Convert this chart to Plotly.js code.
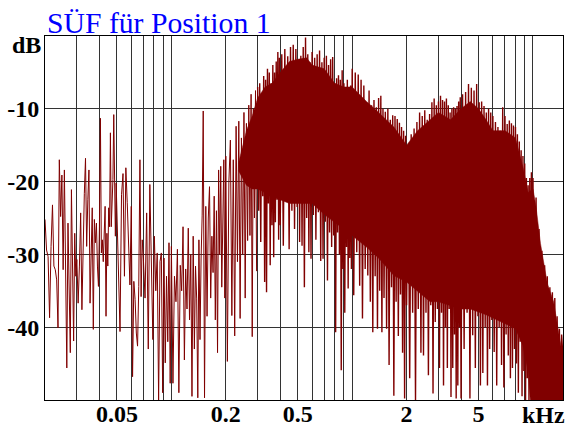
<!DOCTYPE html>
<html><head><meta charset="utf-8">
<script src="https://cdn.plot.ly/plotly-3.0.1.min.js"></script>
<style>html,body{margin:0;padding:0;background:#fff;}#chart{width:568px;height:423px;}</style>
</head><body><div id="chart"></div>
<script>
// Low-frequency part of the spectrum (20 Hz - 300 Hz)
const lowHz = [
20,20.4,20.8,21.2,21.6,22,22.4,22.8,23.2,23.6,24,24.4,24.8,25.2,25.6,26,26.4,26.8,27.2,27.6,28,28.4,28.8,29.2,29.6,
30,30.5,31,31.5,32,32.5,33,33.5,34,34.5,35,35.5,36,36.5,37,37.5,38,38.5,39,39.5,
40,40.5,41,41.5,42,42.5,43,43.5,44,44.5,45,45.5,46,46.5,47,47.5,48,48.5,49,49.5,
50,51,52,53,54,55,56,57,58,59,60,61,62,63,64,65,66,67,68,69,
70,71.5,73,74.5,76,77.5,79,80.5,82,83.5,85,86.5,88,89.5,91,92.5,94,95.5,97,98.5,
100,102,104,106,108,110,112,114,116,118,120,122,124,126,128,130,132,134,136,138,140,142,144,146,148,
150,152.5,155,157.5,160,162.5,165,167.5,170,172.5,175,177.5,180,182.5,185,187.5,190,192.5,195,197.5,
200,204,208,212,216,220,224,228,232,236,240,244,248,252,256,260,264,268,272,276,280,284,288,292,296
];
const lowDb = [
-25.2,-29.4,-30.3,-38.7,-28.9,-23.2,-31.6,-32.1,-33.5,-40.1,-17.0,-24.8,-19.1,-32.1,-18.4,-30.7,-45.6,-25.7,-34.9,-43.5,-21.1,-34.0,-41.9,-27.1,-33.0,
-30.7,-36.7,-31.6,-24.3,-37.6,-27.1,-21.6,-16.8,-28.9,-22.5,-18.4,-36.7,-27.1,-23.6,-40.3,-25.2,-28.4,-25.7,-31.6,-34.4,
-26.2,-11.3,-29.8,-28.0,-31.0,-26.2,-23.4,-38.5,-27.1,-31.6,-23.6,-26.2,-13.3,-26.2,-22.5,-19.7,-10.8,-22.5,-27.5,-20.2,
-24.8,-31.9,-40.6,-21.8,-18.9,-33.0,-18.1,-22.9,-28.9,-34.2,-23.4,-46.8,-33.7,-36.2,-40.8,-42.6,-34.4,-17.0,-35.8,-28.0,
-30.5,-36.0,-24.3,-43.0,-20.4,-33.0,-41.7,-27.5,-35.0,-29.8,-50.0,-31.0,-29.8,-49.0,-30.5,-44.9,-33.0,-42.0,-28.4,-47.7,
-28.9,-47.7,-33.0,-36.5,-29.3,-49.0,-31.5,-35.0,-26.2,-44.5,-32.0,-37.5,-26.4,-39.0,-30.0,-49.5,-27.5,-43.0,-31.6,-36.0,-49.7,-28.0,-41.7,-30.5,-24.6,
-10.3,-49.7,-23.4,-38.5,-25.0,-20.7,-36.0,-27.5,-32.5,-22.0,-39.0,-24.0,-43.5,-18.4,-30.0,-17.9,-34.5,-25.0,-17.0,-36.0,
-16.5,-44.7,-20.0,-14.3,-38.4,-17.0,-41.2,-12.4,-31.0,-11.7,-38.8,-14.0,-30.0,-10.5,-36.0,-12.0,-28.1,-9.5,-27.4,-8.0,-41.3,-10.0,-25.0,-7.5,-32.3
];
// Dense part of the spectrum (300 Hz - 14.7 kHz)
const highHz = [
300,304,308,312,316,320,324,328,332,336,340,344,348,352,356,360,364,368,372,376,380,384,388,392,396,
400,408,416,424,432,440,448,456,464,472,480,488,496,504,512,520,528,536,544,552,560,568,576,584,592,
600,610,620,630,640,650,660,670,680,690,700,710,720,730,740,750,760,770,780,790,
800,810,820,830,840,850,860,870,880,890,900,910,920,930,940,950,960,970,980,990,
1000,1020,1040,1060,1080,1100,1120,1140,1160,1180,1200,1220,1240,1260,1280,1300,1320,1340,1360,1380,1400,1420,1440,1460,1480,
1500,1525,1550,1575,1600,1625,1650,1675,1700,1725,1750,1775,1800,1825,1850,1875,1900,1925,1950,1975,
2000,2040,2080,2120,2160,2200,2240,2280,2320,2360,2400,2440,2480,2520,2560,2600,2640,2680,2720,2760,2800,2840,2880,2920,2960,
3000,3040,3080,3120,3160,3200,3240,3280,3320,3360,3400,3440,3480,3520,3560,3600,3640,3680,3720,3760,3800,3840,3880,3920,3960,
4000,4080,4160,4240,4320,4400,4480,4560,4640,4720,4800,4880,4960,5040,5120,5200,5280,5360,5440,5520,5600,5680,5760,5840,5920,
6000,6100,6200,6300,6400,6500,6600,6700,6800,6900,7000,7100,7200,7300,7400,7500,7600,7700,7800,7900,
8000,8100,8200,8300,8400,8500,8600,8700,8800,8900,9000,9100,9200,9300,9400,9500,9600,9700,9800,9900,
10000,10200,10400,10600,10800,11000,11200,11400,11600,11800,12000,12200,12400,12600,12800,13000,13200,13400,13600,13800,14000,14200,14400,14600,14700
];
const highDb = [
-7.0,-24.0,-6.5,-28.3,-8.0,-22.0,-5.5,-33.8,-6.0,-35.2,-4.5,-23.0,-5.0,-31.5,-6.5,-26.0,-4.0,-30.4,-5.0,-25.6,-3.5,-22.5,-2.2,-28.0,-3.0,
-26.0,-2.5,-28.8,-1.8,-22.0,-2.8,-29.3,-1.5,-24.0,-1.2,-26.5,-1.8,-23.5,-3.5,-28.3,-2.7,-28.8,-1.5,-34.5,-0.2,-25.0,-2.5,-29.7,-3.6,-30.6,
-2.2,-24.6,-3.0,-28.0,-2.5,-24.2,-2.0,-30.9,-3.6,-30.6,-3.0,-25.5,-2.7,-33.6,-4.0,-27.0,-3.2,-29.0,-2.9,-27.4,
-6.5,-40.7,-5.8,-27.0,-5.4,-30.0,-6.0,-45.9,-4.7,-32.0,-6.5,-38.0,-7.3,-29.0,-6.0,-34.7,-7.0,-30.5,-6.8,-32.0,
-4.5,-35.6,-5.0,-29.7,-5.3,-34.3,-6.0,-38.8,-6.8,-32.0,-9.1,-32.9,-7.5,-36.5,-9.5,-40.7,-8.8,-33.0,-9.8,-40.2,-8.5,-35.0,-8.2,-40.7,-10.0,
-36.0,-10.4,-40.2,-10.0,-45.2,-11.5,-34.5,-10.9,-49.4,-11.0,-36.5,-11.4,-41.2,-11.9,-35.5,-12.5,-43.5,-13.0,-49.8,-13.7,
-37.0,-15.0,-47.0,-13.5,-38.0,-12.7,-50.0,-11.8,-37.5,-10.5,-43.5,-11.0,-43.9,-10.2,-38.0,-11.5,-46.6,-10.7,-37.0,-9.1,-49.1,-8.6,-39.3,-9.5,-37.5,
-9.0,-45.6,-8.2,-38.0,-8.8,-48.0,-9.0,-40.0,-8.6,-45.6,-9.5,-37.5,-10.5,-49.6,-10.0,-45.6,-9.8,-41.0,-10.0,-49.8,-9.6,-48.0,-9.0,-40.0,-8.4,
-49.8,-8.0,-43.0,-7.7,-38.0,-6.6,-49.8,-7.1,-41.1,-7.5,-45.6,-6.6,-38.5,-9.1,-48.0,-9.0,-46.3,-9.6,-40.0,-10.5,-48.0,-10.0,-43.0,-10.5,-39.0,
-11.0,-43.4,-11.8,-48.0,-12.5,-40.0,-13.0,-45.2,-9.8,-48.3,-11.0,-41.0,-12.1,-43.9,-11.6,-47.0,-12.0,-45.6,-12.3,-43.0,
-12.5,-45.0,-13.5,-49.0,-14.5,-42.0,-15.7,-49.5,-16.5,-46.0,-17.5,-50.0,-19.5,-47.0,-20.5,-50.0,-19.5,-48.5,-18.7,-50.0,
-19.5,-52.0,-22.2,-49.0,-26.5,-53.0,-29.5,-51.0,-31.5,-54.0,-33.0,-52.0,-34.5,-55.0,-35.2,-53.0,-36.0,-54.0,-38.5,-52.0,-40.2,-55.0,-41.0,-43.5,-54.0
];
// Solid core of the dense band (where the spectrum lines overlap completely)
const coreHz = [235,260,280,300,330,360,400,450,500,560,600,700,800,900,1000,1200,1400,1700,2000,2300,2700,3000,3500,4000,4500,5000,5500,6000,7000,8000,8800,9400,10000,10400,11000,12000,13000,14000,14700];
const coreTopDb = [-17.5,-13,-11,-8.5,-7,-6.5,-5,-3.5,-3.2,-3,-4,-4.5,-6.5,-7,-7,-9,-10.5,-12.5,-15,-13,-11.5,-10.5,-11.5,-10,-9,-10,-11.5,-13,-13,-14,-18,-21.5,-21,-23.5,-28.5,-34,-36.5,-41,-44.5];
const coreBottomDb = [-18.5,-20.5,-21,-21,-21.5,-22,-22.5,-23,-23,-23,-23,-24.5,-25.6,-26.5,-27.4,-29,-30.5,-32.9,-33.8,-35,-36.5,-36.5,-37,-37.5,-37.5,-37.9,-38.3,-38.8,-39.5,-40.2,-42.5,-46,-55,-55,-55,-55,-55,-55,-55];
// Axis grid and labels
const gridHz = [30,40,50,60,70,80,90,100,200,300,400,500,600,700,800,900,1000,2000,3000,4000,5000,6000,7000,8000,9000,10000];
const labelHz = [50,200,500,2000,5000];
const labelText = ['0.05','0.2','0.5','2','5'];
const yTickVals = [-10,-20,-30,-40];
const yTickText = ['-10','-20','-30','-40'];

const xTickText = gridHz.map(f => { const i = labelHz.indexOf(f); return i >= 0 ? labelText[i] : ''; });
const lineColor = '#800000';
const tickFont = {family:'Liberation Serif', size:24, color:'#000', weight:'bold'};

const traces = [
  {x: coreHz.concat(coreHz.slice().reverse()), y: coreTopDb.concat(coreBottomDb.slice().reverse()),
   type:'scatter', mode:'lines', fill:'toself', fillcolor:lineColor, line:{color:lineColor, width:0.5}, hoverinfo:'skip'},
  {x: lowHz, y: lowDb, type:'scatter', mode:'lines', line:{color:lineColor, width:1}, hoverinfo:'skip'},
  {x: highHz, y: highDb, type:'scatter', mode:'lines', line:{color:lineColor, width:1.4}, hoverinfo:'skip'}
];
const layout = {
  width:568, height:423,
  margin:{l:45, r:5, t:36, b:23, pad:0},
  paper_bgcolor:'#fff', plot_bgcolor:'#fff',
  showlegend:false,
  title:{text:'SÜF für Position 1', font:{family:'Liberation Serif', size:29.7, color:'#0000ff'},
         x:47/568, xref:'container', xanchor:'left', y:1-22.5/423, yref:'container', yanchor:'middle'},
  xaxis:{type:'log', range:[1.301, 4.166], tickmode:'array', tickvals:gridHz, ticktext:xTickText,
         showgrid:true, gridcolor:'#333', gridwidth:1, ticks:'', showline:true, mirror:true,
         linecolor:'#000', linewidth:1, zeroline:false, tickfont:tickFont, ticklabelstandoff:-8, fixedrange:true},
  yaxis:{range:[-50,0], tickmode:'array', tickvals:yTickVals, ticktext:yTickText,
         showgrid:true, gridcolor:'#333', gridwidth:1, ticks:'', showline:true, mirror:true,
         linecolor:'#000', linewidth:1, zeroline:false, tickfont:tickFont, fixedrange:true},
  annotations:[
    {text:'dB', xref:'paper', yref:'paper', x:0, y:1, xanchor:'right', yanchor:'middle', xshift:-2, yshift:-9,
     showarrow:false, font:tickFont},
    {text:'kHz', xref:'paper', yref:'paper', x:(543-45)/518, y:0, xanchor:'center', yanchor:'middle', yshift:-15,
     showarrow:false, font:tickFont}
  ]
};
Plotly.newPlot('chart', traces, layout, {staticPlot:true, displayModeBar:false});
</script></body></html>
